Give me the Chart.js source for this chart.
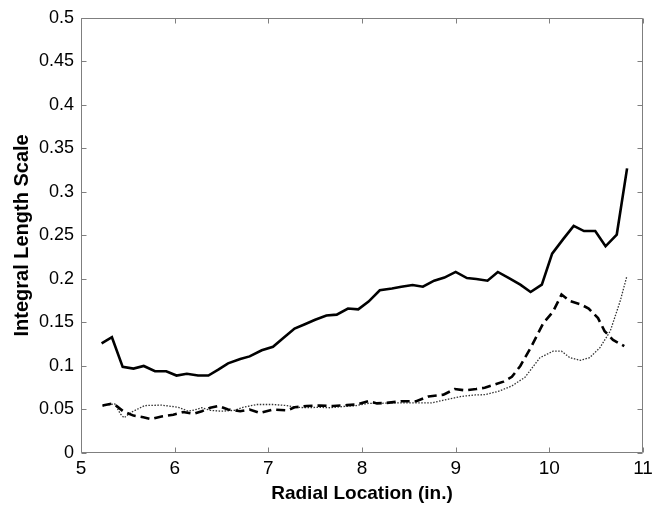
<!DOCTYPE html>
<html>
<head>
<meta charset="utf-8">
<script src="https://cdn.jsdelivr.net/npm/chart.js@4/dist/chart.umd.min.js"></script>
<style>
  html, body { margin: 0; padding: 0; background: #ffffff; }
  canvas { display: block; }
</style>
</head>
<body>
<canvas id="c" width="668" height="508"></canvas>
<script>
// ---- Data ----
const solidX = [5.22, 5.33, 5.445, 5.56, 5.67, 5.79, 5.91, 6.02, 6.13, 6.25, 6.36, 6.47, 6.57, 6.70, 6.80, 6.93, 7.05, 7.16, 7.28, 7.39, 7.50, 7.62, 7.73, 7.85, 7.96, 8.07, 8.19, 8.32, 8.42, 8.54, 8.65, 8.77, 8.88, 9.00, 9.12, 9.22, 9.34, 9.45, 9.56, 9.69, 9.80, 9.92, 10.03, 10.15, 10.26, 10.37, 10.49, 10.60, 10.72, 10.83];
const solidY = [0.126, 0.133, 0.099, 0.097, 0.100, 0.094, 0.094, 0.089, 0.091, 0.089, 0.089, 0.096, 0.103, 0.108, 0.111, 0.118, 0.122, 0.132, 0.143, 0.148, 0.153, 0.158, 0.159, 0.166, 0.165, 0.174, 0.187, 0.189, 0.191, 0.193, 0.191, 0.198, 0.2015, 0.208, 0.201, 0.200, 0.198, 0.208, 0.2015, 0.1935, 0.185, 0.1935, 0.229, 0.246, 0.261, 0.255, 0.255, 0.2375, 0.251, 0.327];

const dashedX = [5.23, 5.345, 5.45, 5.56, 5.665, 5.75, 5.86, 5.985, 6.09, 6.20, 6.29, 6.38, 6.47, 6.57, 6.70, 6.80, 6.91, 7.05, 7.20, 7.28, 7.41, 7.55, 7.69, 7.84, 7.94, 8.07, 8.16, 8.26, 8.42, 8.58, 8.71, 8.87, 8.99, 9.10, 9.22, 9.31, 9.40, 9.51, 9.60, 9.69, 9.81, 9.935, 10.04, 10.13, 10.22, 10.33, 10.42, 10.52, 10.59, 10.68, 10.80];
const dashedY = [0.0545, 0.057, 0.048, 0.043, 0.041, 0.039, 0.042, 0.044, 0.047, 0.045, 0.048, 0.052, 0.054, 0.050, 0.048, 0.050, 0.046, 0.050, 0.049, 0.0525, 0.054, 0.0545, 0.054, 0.055, 0.0557, 0.0595, 0.057, 0.0575, 0.0595, 0.0595, 0.065, 0.067, 0.0735, 0.072, 0.0735, 0.075, 0.078, 0.082, 0.0875, 0.100, 0.1227, 0.149, 0.1625, 0.182, 0.1745, 0.171, 0.166, 0.155, 0.140, 0.130, 0.1227];

const dottedX = [5.23, 5.36, 5.42, 5.46, 5.54, 5.68, 5.86, 6.04, 6.145, 6.22, 6.29, 6.38, 6.50, 6.64, 6.73, 6.875, 7.05, 7.20, 7.30, 7.41, 7.55, 7.66, 7.80, 7.94, 8.07, 8.19, 8.30, 8.46, 8.60, 8.74, 8.885, 9.06, 9.21, 9.31, 9.455, 9.60, 9.74, 9.90, 10.04, 10.13, 10.22, 10.33, 10.43, 10.54, 10.65, 10.755, 10.825];
const dottedY = [0.054, 0.0565, 0.045, 0.0405, 0.047, 0.0545, 0.055, 0.0525, 0.048, 0.0497, 0.052, 0.049, 0.048, 0.049, 0.0525, 0.0557, 0.0557, 0.0545, 0.0525, 0.052, 0.0525, 0.052, 0.0534, 0.0545, 0.057, 0.057, 0.0575, 0.0575, 0.0575, 0.0575, 0.061, 0.065, 0.0667, 0.067, 0.0708, 0.077, 0.087, 0.1095, 0.117, 0.117, 0.1095, 0.1065, 0.1095, 0.121, 0.140, 0.174, 0.202];

const xTickValues = [5, 6, 7, 8, 9, 10, 11];
const xTickLabels = ['5', '6', '7', '8', '9', '10', '11'];
const yTickValues = [0, 0.05, 0.1, 0.15, 0.2, 0.25, 0.3, 0.35, 0.4, 0.45, 0.5];
const yTickLabels = ['0', '0.05', '0.1', '0.15', '0.2', '0.25', '0.3', '0.35', '0.4', '0.45', '0.5'];

const xTitle = 'Radial Location (in.)';
const yTitle = 'Integral Length Scale';

// ---- Build ----
const toPts = (xs, ys) => xs.map((x, i) => ({ x: x, y: ys[i] }));

const FONT = '"Liberation Sans", Arial, sans-serif';
const AXIS_COLOR = '#7f7f7f';

const boxTicks = {
  id: 'boxTicks',
  afterDatasetsDraw(chart) {
    const { ctx, chartArea: a, scales } = chart;
    const L = Math.round(a.left) + 0.5, R = Math.round(a.right) - 0.5;
    const T = Math.round(a.top) + 0.5, B = Math.round(a.bottom) - 0.5;
    const len = 5;
    ctx.save();
    ctx.strokeStyle = AXIS_COLOR;
    ctx.lineWidth = 1;
    ctx.beginPath();
    ctx.rect(L, T, R - L, B - T);
    scales.x.ticks.forEach(t => {
      const px = Math.round(scales.x.getPixelForValue(t.value)) + 0.5;
      ctx.moveTo(px, B); ctx.lineTo(px, B - len);
      ctx.moveTo(px, T); ctx.lineTo(px, T + len);
    });
    scales.y.ticks.forEach(t => {
      const py = Math.round(scales.y.getPixelForValue(t.value)) + 0.5;
      ctx.moveTo(L, py); ctx.lineTo(L + len, py);
      ctx.moveTo(R, py); ctx.lineTo(R - len, py);
    });
    ctx.stroke();
    ctx.restore();
  }
};

new Chart(document.getElementById('c'), {
  type: 'line',
  data: {
    datasets: [
      { data: toPts(solidX, solidY), borderColor: '#000', borderWidth: 2.6, pointRadius: 0, tension: 0, fill: false },
      { data: toPts(dashedX, dashedY), borderColor: '#000', borderWidth: 2.6, borderDash: [9, 5], pointRadius: 0, tension: 0, fill: false },
      { data: toPts(dottedX, dottedY), borderColor: '#333', borderWidth: 1.3, borderDash: [1.5, 1.5], pointRadius: 0, tension: 0, fill: false }
    ]
  },
  options: {
    responsive: false,
    devicePixelRatio: 1,
    animation: false,
    events: [],
    layout: { padding: { left: 0, right: 25, top: 13, bottom: 0 } },
    plugins: { legend: { display: false }, tooltip: { enabled: false } },
    scales: {
      x: {
        type: 'linear',
        min: 5, max: 11,
        afterFit(s) { s.height = 55; },
        afterBuildTicks(s) { s.ticks = xTickValues.map(v => ({ value: v })); },
        grid: { display: false, drawTicks: false },
        border: { display: false },
        ticks: {
          color: '#000', padding: 4, maxRotation: 0, autoSkip: false,
          font: { family: FONT, size: 19 },
          callback: (v, i) => xTickLabels[i]
        },
        title: { display: true, text: xTitle, color: '#000', padding: { top: 0, bottom: 3 },
          font: { family: FONT, size: 19, weight: 'bold' } }
      },
      y: {
        type: 'linear',
        min: 0, max: 0.5,
        afterFit(s) { s.width = 81; },
        afterBuildTicks(s) { s.ticks = yTickValues.map(v => ({ value: v })); },
        grid: { display: false, drawTicks: false },
        border: { display: false },
        ticks: {
          color: '#000', padding: 7, autoSkip: false,
          font: { family: FONT, size: 18 },
          callback: (v, i) => yTickLabels[i]
        },
        title: { display: true, text: yTitle, color: '#000', padding: { top: 10, bottom: 0 },
          font: { family: FONT, size: 20, weight: 'bold' } }
      }
    }
  },
  plugins: [boxTicks]
});
</script>
</body>
</html>
